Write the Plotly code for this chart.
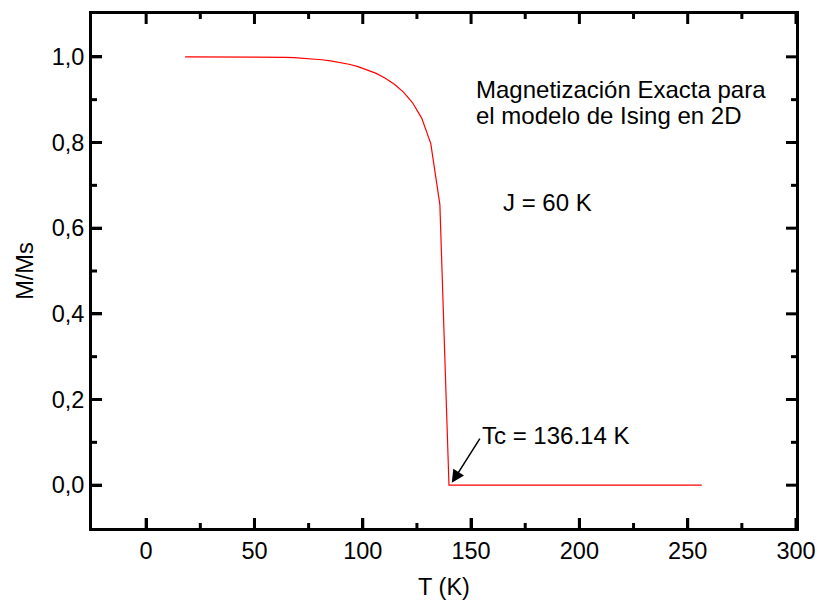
import plotly.graph_objects as go

# Magnetización espontánea M/Ms del modelo de Ising 2D (J = 60 K)
temperatura = [18.0, 22.2, 26.4, 30.6, 34.8, 39.0, 43.2, 47.4, 51.6, 55.8,
               60.0, 64.2, 68.4, 72.6, 76.8, 81.0, 85.2, 89.4, 93.6, 97.8,
               102.0, 106.2, 110.4, 114.6, 118.8, 123.0, 127.2, 131.4, 135.6,
               139.8, 256.5]
magnetizacion = [1.0000, 1.0000, 1.0000, 1.0000, 1.0000, 1.0000, 1.0000, 1.0000,
                 0.9998, 0.9996, 0.9993, 0.9988, 0.9980, 0.9968, 0.9953, 0.9932,
                 0.9905, 0.9871, 0.9827, 0.9771, 0.9701, 0.9613, 0.9502, 0.9361,
                 0.9176, 0.8927, 0.8569, 0.7973, 0.6550, 0.0, 0.0]

x_range = [-25, 300]
y_range = [-0.1, 1.1]
x_tick_vals = [0, 50, 100, 150, 200, 250, 300]
x_tick_text = ["0", "50", "100", "150", "200", "250", "300"]
x_minor_vals = [25, 75, 125, 175, 225, 275]
y_tick_vals = [0.0, 0.2, 0.4, 0.6, 0.8, 1.0]
y_tick_text = ["0,0", "0,2", "0,4", "0,6", "0,8", "1,0"]
y_minor_vals = [0.1, 0.3, 0.5, 0.7, 0.9]

FONT = "Arial, Liberation Sans, sans-serif"
FS = 23.5
FS_NOTE = 24
MAJOR_LEN = 10
MINOR_LEN = 5

fig = go.Figure()
fig.add_trace(go.Scatter(
    x=temperatura, y=magnetizacion, mode="lines",
    line=dict(color="#ff0000", width=1.2),
    showlegend=False, hoverinfo="skip",
))

# Ejes principales: marco, etiquetas y títulos
axis_common = dict(
    showgrid=False, zeroline=False, automargin=False,
    showline=True, linecolor="black", linewidth=3, mirror=True,
    ticks="inside", ticklen=10, tickwidth=3, tickcolor="black",
    tickfont=dict(family=FONT, size=FS, color="black"),
)
fig.update_layout(
    xaxis=dict(range=x_range, tickmode="array", tickvals=x_tick_vals, ticktext=x_tick_text,
               title=dict(text="T (K)", font=dict(family=FONT, size=FS, color="black"),
                          standoff=22),
               **axis_common),
    yaxis=dict(range=y_range, tickmode="array", tickvals=y_tick_vals, ticktext=y_tick_text,
               title=dict(text="M/Ms", font=dict(family=FONT, size=FS, color="black"),
                          standoff=12),
               **axis_common),
)

# Marcas hacia el interior en los cuatro lados del marco (longitud en píxeles,
# posición tomada de los valores de marca sobre los ejes)
tick_line = dict(color="black", width=3)
for vals, length in [(x_tick_vals, MAJOR_LEN), (x_minor_vals, MINOR_LEN)]:
    for v in vals:
        for edge, sign in [(0, 1), (1, -1)]:
            fig.add_shape(type="line", xref="x", yref="paper", x0=v, x1=v,
                          ysizemode="pixel", yanchor=edge, y0=0, y1=sign * length,
                          line=tick_line, layer="above")
for vals, length in [(y_tick_vals, MAJOR_LEN), (y_minor_vals, MINOR_LEN)]:
    for v in vals:
        for edge, sign in [(0, 1), (1, -1)]:
            fig.add_shape(type="line", xref="paper", yref="y", y0=v, y1=v,
                          xsizemode="pixel", xanchor=edge, x0=0, x1=sign * length,
                          line=tick_line, layer="above")

txt = dict(family=FONT, size=FS_NOTE, color="black")
fig.add_annotation(x=151.5, y=0.924, xref="x", yref="y", text="Magnetización Exacta para",
                   showarrow=False, xanchor="left", yanchor="middle", font=txt)
fig.add_annotation(x=151.5, y=0.864, xref="x", yref="y", text="el modelo de Ising en 2D",
                   showarrow=False, xanchor="left", yanchor="middle", font=txt)
fig.add_annotation(x=164.0, y=0.660, xref="x", yref="y", text="J = 60 K",
                   showarrow=False, xanchor="left", yanchor="middle", font=txt)
fig.add_annotation(x=153.9, y=0.116, xref="x", yref="y", text="Tc = 136.14 K",
                   showarrow=False, xanchor="left", yanchor="middle", font=txt)
# Flecha señalando la temperatura crítica
fig.add_annotation(x=141.1, y=0.0054, xref="x", yref="y",
                   ax=154.2, ay=0.1096, axref="x", ayref="y",
                   text="", font=dict(size=1), borderpad=0,
                   showarrow=True, arrowhead=2, arrowsize=1.7,
                   arrowwidth=1.5, arrowcolor="black")

fig.update_layout(
    width=820, height=600,
    margin=dict(l=92, r=24, t=14, b=72),
    paper_bgcolor="white", plot_bgcolor="white",
    font=dict(family=FONT, size=FS, color="black"),
)

fig.write_html("out.html")
